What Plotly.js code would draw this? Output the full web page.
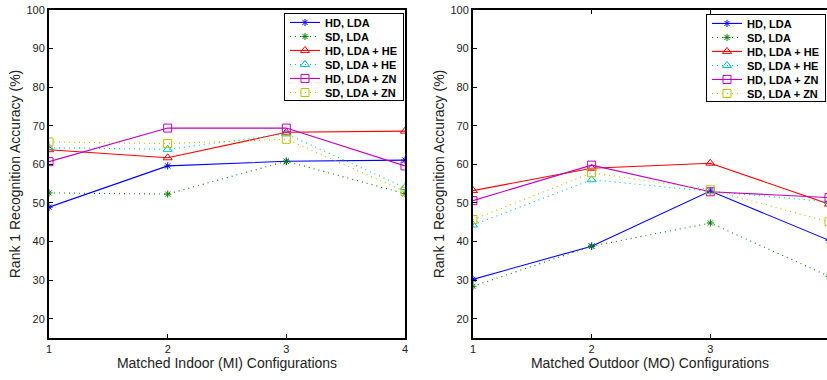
<!DOCTYPE html>
<html><head><meta charset="utf-8">
<script src="https://cdn.plot.ly/plotly-3.0.1.min.js"></script>
<style>html,body{margin:0;padding:0;background:#fff}#c{width:827px;height:380px}</style>
</head><body><div id="c"></div>
<script>
const xVals = [1, 2, 3, 4];
const seriesNames = ["HD, LDA", "SD, LDA", "HD, LDA + HE", "SD, LDA + HE", "HD, LDA + ZN", "SD, LDA + ZN"];
// Indoor (MI)
const miHdLda   = [48.9, 59.6, 60.8, 61.1];
const miSdLda   = [52.6, 52.3, 60.8, 52.4];
const miHdHe    = [63.8, 61.7, 68.3, 68.6];
const miSdHe    = [64.3, 63.9, 67.9, 54.0];
const miHdZn    = [60.7, 69.4, 69.4, 59.6];
const miSdZn    = [65.8, 65.4, 66.5, 53.0];
// Outdoor (MO)
const moHdLda   = [30.2, 38.8, 53.1, 40.3];
const moSdLda   = [28.4, 38.8, 44.8, 31.0];
const moHdHe    = [53.2, 59.0, 60.3, 49.7];
const moSdHe    = [44.3, 56.0, 53.0, 50.3];
const moHdZn    = [50.6, 59.8, 52.9, 51.4];
const moSdZn    = [45.7, 57.8, 53.4, 45.1];

const styles = [
  {color: "#0000ff", dash: "solid",   symbol: "asterisk-open"},
  {color: "#008000", dash: "1px,4px", symbol: "asterisk-open"},
  {color: "#ff0000", dash: "solid",   symbol: "triangle-up-open"},
  {color: "#00bfbf", dash: "1px,4px", symbol: "triangle-up-open"},
  {color: "#bf00bf", dash: "solid",   symbol: "square-open"},
  {color: "#bfbf00", dash: "1px,4px", symbol: "square-open"}
];

const miData = [miHdLda, miSdLda, miHdHe, miSdHe, miHdZn, miSdZn];
const moData = [moHdLda, moSdLda, moHdHe, moSdHe, moHdZn, moSdZn];

const traces = [];
function add(dataSet, xa, ya, leg) {
  dataSet.forEach((ys, i) => {
    const s = styles[i];
    traces.push({
      x: xVals, y: ys, xaxis: xa, yaxis: ya, legend: leg,
      type: "scatter", mode: "lines+markers", name: seriesNames[i],
      line: {color: s.color, width: 1.1, dash: s.dash},
      marker: {symbol: s.symbol, size: s.symbol === "asterisk-open" ? 6 : 8,
               color: s.color, line: {color: s.color, width: 1}},
      cliponaxis: true
    });
  });
}
add(miData, "x", "y", "legend");
add(moData, "x2", "y2", "legend2");

const tickFont = {family: "Liberation Sans, Arial, sans-serif", size: 11, color: "#222"};
const titleFont = {family: "Liberation Sans, Arial, sans-serif", size: 14, color: "#222"};
const legFont = {family: "Liberation Sans, Arial, sans-serif", size: 11, color: "#000", weight: "bold"};

function xAxis(domain, range, title, mirror) {
  return {domain: domain, range: range, tickvals: [1,2,3,4], ticktext: ["1","2","3","4"],
    ticks: "inside", ticklen: 4, tickwidth: 1, tickcolor: "#000",
    showline: true, linecolor: "#000", linewidth: 2, mirror: mirror,
    showgrid: false, zeroline: false, tickfont: tickFont,
    title: {text: title, font: titleFont, standoff: 4}};
}
function yAxis(anchor, mirror) {
  return {anchor: anchor, domain: [0, 1], range: [15, 100], tickvals: [20,30,40,50,60,70,80,90,100],
    ticks: "inside", ticklen: 4, tickwidth: 1, tickcolor: "#000",
    showline: true, linecolor: "#000", linewidth: 2, mirror: mirror,
    showgrid: false, zeroline: false, tickfont: tickFont,
    title: {text: "Rank 1 Recognition Accuracy (%)", font: titleFont, standoff: 3}};
}

const layout = {
  width: 827, height: 380,
  margin: {l: 0, r: 0, t: 10, b: 42},
  paper_bgcolor: "#fff", plot_bgcolor: "#fff",
  showlegend: true,
  xaxis: Object.assign(xAxis([0.0593, 0.4897], [1, 4], "Matched Indoor (MI) Configurations", true), {anchor: "y"}),
  yaxis: yAxis("x", true),
  xaxis2: Object.assign(xAxis([0.5719, 1], [1, 3.983], "Matched Outdoor (MO) Configurations", "ticks"), {anchor: "y2"}),
  yaxis2: yAxis("x2", false),
  legend: {x: 0.4885, xanchor: "right", y: 0.991, yanchor: "top", xref: "paper", yref: "paper",
    bgcolor: "#fff", bordercolor: "#000", borderwidth: 1, font: legFont, itemwidth: 30, tracegroupgap: 0},
  legend2: {x: 0.9988, xanchor: "right", y: 0.988, yanchor: "top", xref: "paper", yref: "paper",
    bgcolor: "#fff", bordercolor: "#000", borderwidth: 1, font: legFont, itemwidth: 30, tracegroupgap: 0}
};

Plotly.newPlot("c", traces, layout, {displayModeBar: false, staticPlot: true}).then(() => {
  // tighten legend row spacing to match the compact reference legend
  const step = 14.0;
  document.querySelectorAll("#c .infolayer > g").forEach(lg => {
    const bg = lg.querySelector("rect.bg");
    const items = lg.querySelectorAll("g.traces");
    if (!bg || items.length < 2) return;
    const pos = [];
    items.forEach(it => {
      const m = /translate\(\s*([-\d.e]+)[ ,]+([-\d.e]+)\s*\)/.exec(it.getAttribute("transform") || "");
      pos.push(m ? [parseFloat(m[1]), parseFloat(m[2])] : null);
    });
    if (pos.some(p => !p)) return;
    items.forEach((it, i) => {
      it.setAttribute("transform", "translate(" + pos[i][0] + "," + (pos[0][1] + i * step - 6) + ")");
    });
    bg.setAttribute("height", 87);
  });
});
</script>
</body></html>
